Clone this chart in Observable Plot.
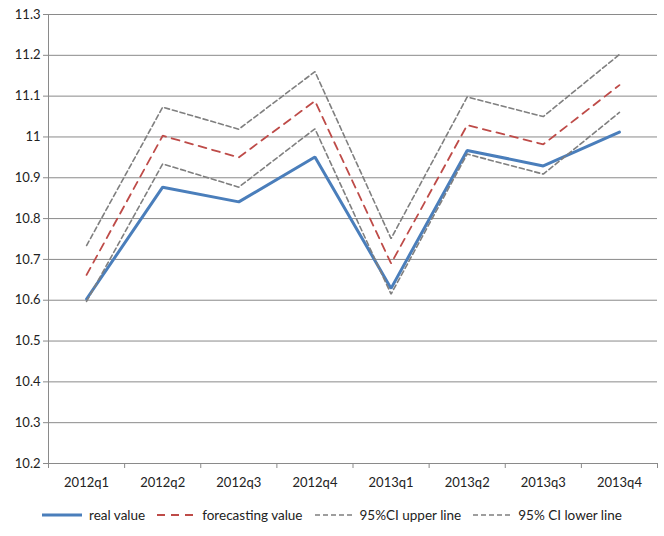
<!DOCTYPE html>
<html>
<head>
<meta charset="utf-8">
<script src="https://cdn.jsdelivr.net/npm/d3@7"></script>
<script src="https://cdn.jsdelivr.net/npm/@observablehq/plot@0.6"></script>
<style>
  body { margin: 0; background: #fff; font-family: Lato, "Open Sans", sans-serif; }
  #chart { width: 664px; }
  .legend { display: flex; justify-content: center; align-items: center; gap: 0; font-size: 13.5px; color: #222; margin-top: 7px; }
  .legend .item { display: flex; align-items: center; margin: 0 6px; }
  .legend svg { margin-right: 7px; }
</style>
</head>
<body>
<div id="chart"></div>
<script>
const categories = ["2012q1", "2012q2", "2012q3", "2012q4", "2013q1", "2013q2", "2013q3", "2013q4"];
const realValue   = [10.603, 10.877, 10.841, 10.951, 10.629, 10.967, 10.929, 11.012];
const forecasting = [10.662, 11.003, 10.950, 11.088, 10.690, 11.029, 10.982, 11.127];
const ciUpper     = [10.734, 11.073, 11.019, 11.160, 10.751, 11.098, 11.050, 11.202];
const ciLower     = [10.597, 10.934, 10.877, 11.020, 10.615, 10.958, 10.909, 11.060];
const yTicks = [10.2, 10.3, 10.4, 10.5, 10.6, 10.7, 10.8, 10.9, 11, 11.1, 11.2, 11.3];

const seriesNames = ["real value", "forecasting value", "95%CI upper line", "95% CI lower line"];
const seriesValues = [realValue, forecasting, ciUpper, ciLower];
const styles = [
  {stroke: "#4A7EBB", strokeWidth: 3, dash: null},
  {stroke: "#BE4B48", strokeWidth: 1.8, dash: "8,6"},
  {stroke: "#7F7F7F", strokeWidth: 1.6, dash: "5,3"},
  {stroke: "#7F7F7F", strokeWidth: 1.6, dash: "5,3"}
];

const idx = categories.map((c, i) => i);
const bounds = d3.range(-0.5, categories.length, 1);
const gridColor = "#8a8a8a";

const lineMarks = seriesValues.map((vals, s) =>
  Plot.line(idx.map(i => ({i, v: vals[i]})), {
    x: "i", y: "v",
    stroke: styles[s].stroke,
    strokeWidth: styles[s].strokeWidth,
    strokeDasharray: styles[s].dash,
    strokeLinejoin: "miter"
  })
);

const plot = Plot.plot({
  width: 664,
  height: 500,
  marginLeft: 48,
  marginRight: 7,
  marginTop: 14,
  marginBottom: 37,
  style: {fontFamily: "Lato, 'Open Sans', sans-serif", fontSize: "13px", color: "#222", background: "#fff"},
  x: {domain: [-0.5, categories.length - 0.5], axis: null},
  y: {domain: [10.2, 11.3], axis: null},
  marks: [
    Plot.ruleY(yTicks, {stroke: gridColor, strokeWidth: 1, strokeOpacity: 1}),
    Plot.ruleX([-0.5], {stroke: gridColor, strokeWidth: 1}),
    Plot.axisY({ticks: yTicks, tickSize: 5, tickPadding: 3, stroke: gridColor, strokeOpacity: 1, label: null,
      tickFormat: d => String(+d.toFixed(1)), fill: "#222"}),
    Plot.axisX({ticks: bounds, tickSize: 5, tickFormat: () => "", stroke: gridColor, strokeOpacity: 1, label: null}),
    Plot.axisX({ticks: idx, tickSize: 0, tickPadding: 14, tickFormat: i => categories[i], fill: "#222", label: null}),
    ...lineMarks
  ]
});
document.getElementById("chart").appendChild(plot);

const legend = document.createElement("div");
legend.className = "legend";
seriesNames.forEach((name, s) => {
  const st = styles[s];
  const item = document.createElement("div");
  item.className = "item";
  const w = s === 0 ? 40 : 38;
  item.innerHTML = `<svg width="${w}" height="10"><line x1="0" y1="5" x2="${w}" y2="5" stroke="${st.stroke}" stroke-width="${st.strokeWidth}" ${st.dash ? `stroke-dasharray="${st.dash}"` : ""}/></svg><span>${name}</span>`;
  legend.appendChild(item);
});
document.getElementById("chart").appendChild(legend);
</script>
</body>
</html>
